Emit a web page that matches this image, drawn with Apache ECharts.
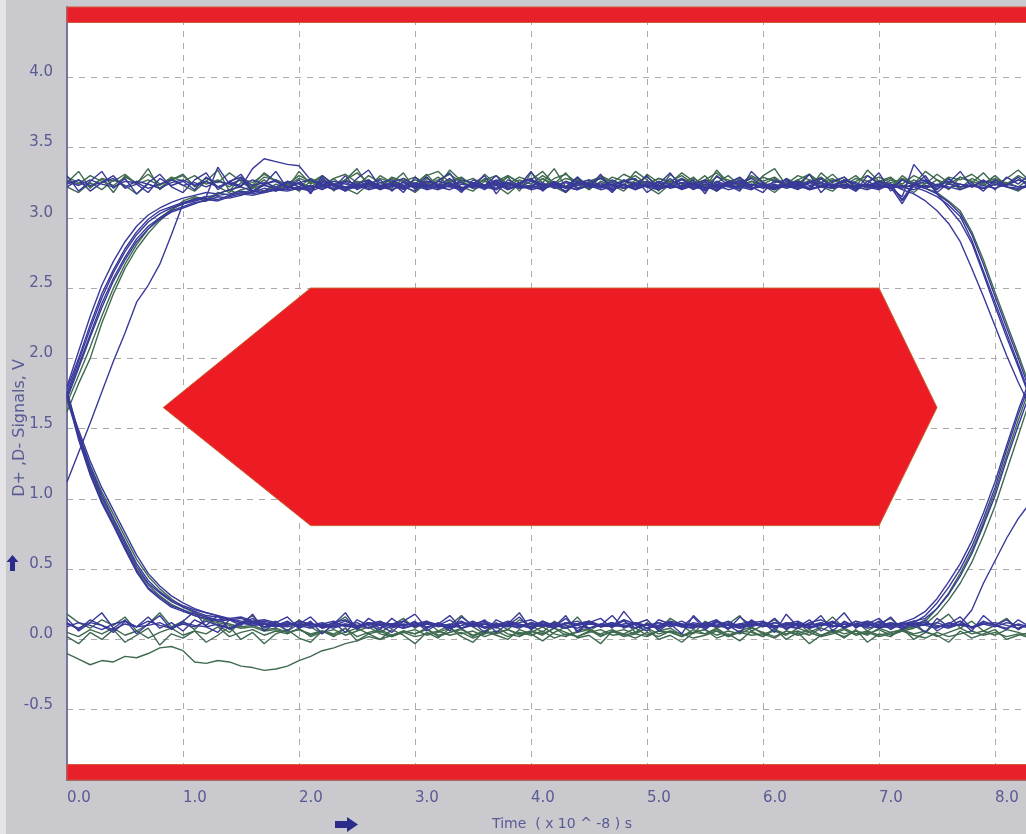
<!DOCTYPE html>
<html>
<head>
<meta charset="utf-8">
<script src="https://cdn.jsdelivr.net/npm/echarts@6/dist/echarts.min.js"></script>
<style>
html,body{margin:0;padding:0;background:#fff;}
#chart{width:1026px;height:834px;}
</style>
</head>
<body>
<div id="chart"></div>
<script>
// ---- axis / tick data ----
const xTicks = [0, 1, 2, 3, 4, 5, 6, 7, 8];
const yTicks = [-0.5, 0.0, 0.5, 1.0, 1.5, 2.0, 2.5, 3.0, 3.5, 4.0];

// sample times (x 10^-8 s)
const time = [
0.0,0.1,0.2,0.3,0.4,0.5,0.6,0.7,0.8,0.9,
1.0,1.1,1.2,1.3,1.4,1.5,1.6,1.7,1.8,1.9,
2.0,2.1,2.2,2.3,2.4,2.5,2.6,2.7,2.8,2.9,
3.0,3.1,3.2,3.3,3.4,3.5,3.6,3.7,3.8,3.9,
4.0,4.1,4.2,4.3,4.4,4.5,4.6,4.7,4.8,4.9,
5.0,5.1,5.2,5.3,5.4,5.5,5.6,5.7,5.8,5.9,
6.0,6.1,6.2,6.3,6.4,6.5,6.6,6.7,6.8,6.9,
7.0,7.1,7.2,7.3,7.4,7.5,7.6,7.7,7.8,7.9,
8.0,8.1,8.2,8.3];

// eye mask (red hexagon)
const maskT = [0.83, 2.10, 7.00, 7.50, 7.00, 2.10];
const maskV = [1.65, 2.50, 2.50, 1.65, 0.81, 0.81];
// red limit bands
const topBand = [4.39, 4.5];
const bottomBand = [-1.0, -0.89];

// ---- green traces ----
const g1 = [
3.27,3.24,3.30,3.26,3.23,3.29,3.25,3.31,3.24,3.27,
3.30,3.23,3.28,3.25,3.32,3.26,3.22,3.29,3.27,3.24,
3.30,3.26,3.23,3.28,3.31,3.25,3.27,3.22,3.29,3.26,
3.24,3.30,3.33,3.25,3.28,3.23,3.27,3.30,3.24,3.29,
3.26,3.22,3.28,3.31,3.25,3.27,3.23,3.29,3.26,3.30,
3.24,3.28,3.25,3.32,3.26,3.23,3.29,3.27,3.24,3.30,
3.26,3.29,3.23,3.27,3.31,3.25,3.28,3.22,3.26,3.30,
3.25,3.28,3.24,3.30,3.26,3.23,3.29,3.27,3.31,3.25,
3.28,3.24,3.30,3.26];
const g2 = [
-0.10,-0.14,-0.18,-0.15,-0.16,-0.12,-0.13,-0.10,-0.06,-0.05,
-0.08,-0.16,-0.17,-0.15,-0.16,-0.19,-0.20,-0.22,-0.21,-0.19,
-0.15,-0.12,-0.08,-0.06,-0.03,-0.01,0.02,0.00,0.03,0.05,
0.02,0.04,0.06,0.03,0.05,0.01,0.04,0.06,0.02,0.05,
0.03,0.06,0.01,0.04,0.02,0.05,0.07,0.03,0.04,0.01,
0.05,0.02,0.06,0.04,0.01,0.03,0.06,0.02,0.05,0.03,
0.04,0.01,0.06,0.03,0.05,0.02,0.04,0.07,0.03,0.05,
0.02,0.04,0.06,0.03,0.01,0.05,0.02,0.04,0.06,0.03,
0.05,0.02,0.04,0.01];
const g3 = [
1.62,1.82,2.00,2.25,2.46,2.64,2.78,2.89,2.98,3.05,
3.12,3.15,3.13,3.18,3.16,3.20,3.22,3.19,3.24,3.21,
3.25,3.22,3.27,3.24,3.21,3.26,3.23,3.28,3.25,3.22,
3.27,3.24,3.29,3.23,3.26,3.22,3.28,3.25,3.23,3.27,
3.24,3.30,3.25,3.22,3.27,3.24,3.28,3.23,3.26,3.25,
3.29,3.23,3.26,3.24,3.21,3.27,3.25,3.30,3.23,3.26,
3.24,3.28,3.22,3.26,3.25,3.29,3.23,3.27,3.24,3.21,
3.26,3.23,3.28,3.25,3.22,3.27,3.24,3.29,3.26,3.23,
3.27,3.25,3.22,3.28];
const g4 = [
1.75,1.44,1.20,0.99,0.83,0.66,0.50,0.39,0.31,0.25,
0.21,0.17,0.14,0.12,0.10,0.08,0.09,0.06,0.07,0.05,
0.07,0.04,0.06,0.03,0.05,0.08,0.04,0.06,0.02,0.05,
0.07,0.03,0.05,0.08,0.04,0.06,0.02,0.05,0.07,0.04,
0.06,0.03,0.08,0.05,0.02,0.06,0.04,0.07,0.03,0.05,
0.08,0.04,0.06,0.02,0.05,0.07,0.03,0.06,0.04,0.08,
0.05,0.02,0.06,0.04,0.07,0.03,0.05,0.08,0.04,0.06,
0.03,0.05,0.07,0.04,0.06,0.02,0.05,0.08,0.04,0.06,
0.03,0.07,0.05,0.02];
const g5 = [
3.29,3.25,3.22,3.28,3.26,3.31,3.24,3.27,3.23,3.29,
3.26,3.30,3.24,3.27,3.22,3.28,3.25,3.31,3.26,3.23,
3.28,3.25,3.30,3.24,3.27,3.32,3.25,3.22,3.28,3.26,
3.29,3.24,3.27,3.31,3.25,3.28,3.23,3.26,3.30,3.25,
3.27,3.33,3.24,3.28,3.26,3.22,3.29,3.25,3.31,3.27,
3.23,3.28,3.26,3.30,3.24,3.27,3.32,3.25,3.28,3.23,
3.29,3.26,3.24,3.30,3.27,3.25,3.31,3.23,3.28,3.26,
3.29,3.25,3.27,3.24,3.21,3.18,3.12,3.05,2.90,2.70,
2.47,2.25,2.03,1.80];
const g6 = [
0.05,0.02,0.07,0.04,0.08,0.03,0.06,0.01,0.05,0.08,
0.03,0.06,0.04,0.09,0.02,0.05,0.07,0.03,0.06,0.04,
0.08,0.02,0.05,0.07,0.03,0.06,0.09,0.04,0.02,0.06,
0.04,0.07,0.03,0.05,0.08,0.02,0.06,0.04,0.07,0.03,
0.05,0.09,0.04,0.02,0.06,0.08,0.03,0.05,0.07,0.04,
0.02,0.06,0.08,0.03,0.05,0.04,0.07,0.02,0.06,0.09,
0.04,0.06,0.03,0.08,0.05,0.02,0.07,0.04,0.06,0.03,
0.08,0.05,0.07,0.09,0.13,0.22,0.33,0.47,0.63,0.83,
1.05,1.31,1.56,1.79];
const g7 = [
0.18,0.12,0.08,0.14,0.10,0.16,0.06,0.11,0.19,0.09,
0.13,0.07,0.15,0.10,0.05,0.12,0.17,0.08,0.11,0.06,
0.14,0.09,0.04,0.11,0.16,0.07,0.12,0.05,0.10,0.15,
0.08,0.13,0.06,0.10,0.17,0.09,0.04,0.12,0.07,0.14,
0.10,0.05,0.13,0.08,0.16,0.06,0.11,0.09,0.14,0.05,
0.12,0.07,0.15,0.10,0.04,0.13,0.08,0.11,0.17,0.06,
0.10,0.14,0.07,0.12,0.05,0.09,0.16,0.08,0.13,0.06,
0.11,0.15,0.07,0.10,0.05,0.12,0.18,0.08,0.13,0.06,
0.10,0.15,0.07,0.12];
const g8 = [
3.22,3.18,3.25,3.20,3.27,3.23,3.17,3.24,3.21,3.28,
3.23,3.19,3.26,3.22,3.18,3.25,3.21,3.27,3.20,3.24,
3.19,3.26,3.22,3.28,3.21,3.17,3.24,3.20,3.26,3.23,
3.18,3.25,3.21,3.27,3.22,3.19,3.26,3.23,3.17,3.24,
3.21,3.28,3.22,3.18,3.25,3.20,3.26,3.23,3.19,3.27,
3.22,3.17,3.24,3.21,3.28,3.23,3.19,3.25,3.20,3.26,
3.23,3.18,3.25,3.21,3.27,3.22,3.19,3.26,3.20,3.24,
3.21,3.27,3.23,3.18,3.25,3.22,3.28,3.20,3.24,3.21,
3.26,3.22,3.19,3.25];
const g9 = [
3.25,3.33,3.21,3.28,3.18,3.30,3.24,3.35,3.20,3.27,
3.31,3.22,3.26,3.34,3.19,3.29,3.23,3.32,3.26,3.21,
3.33,3.24,3.29,3.19,3.27,3.35,3.22,3.30,3.25,3.32,
3.20,3.28,3.23,3.34,3.26,3.21,3.31,3.24,3.29,3.19,
3.32,3.25,3.35,3.22,3.28,3.20,3.30,3.26,3.23,3.33,
3.27,3.19,3.31,3.24,3.29,3.21,3.34,3.25,3.28,3.22,
3.30,3.35,3.23,3.27,3.20,3.32,3.25,3.29,3.22,3.34,
3.26,3.21,3.30,3.24,3.33,3.27,3.20,3.29,3.25,3.32,
3.23,3.28,3.34,3.26];
const g10 = [
0.02,-0.03,0.05,0.00,0.07,-0.02,0.03,0.08,-0.04,0.04,
0.01,0.06,-0.02,0.03,0.09,0.00,0.05,-0.03,0.04,0.07,
0.01,-0.02,0.06,0.02,0.08,-0.01,0.04,0.00,0.07,0.03,
-0.03,0.05,0.01,0.08,0.02,-0.02,0.06,0.03,0.00,0.07,
0.04,-0.01,0.05,0.09,0.01,0.03,-0.03,0.06,0.02,0.04,
0.08,0.00,0.03,-0.02,0.05,0.07,0.01,0.04,-0.01,0.06,
0.02,0.08,0.00,0.05,-0.03,0.03,0.06,0.01,0.07,-0.02,
0.04,0.02,0.08,0.00,0.05,0.03,-0.02,0.06,0.01,0.04,
0.07,0.00,0.03,0.05];
const g11 = [
1.68,1.88,2.08,2.30,2.50,2.67,2.81,2.92,3.00,3.06,
3.10,3.14,3.12,3.17,3.20,3.16,3.21,3.24,3.19,3.26,
3.22,3.28,3.24,3.20,3.27,3.23,3.30,3.25,3.21,3.28,
3.24,3.31,3.22,3.26,3.29,3.23,3.27,3.20,3.30,3.25,
3.22,3.28,3.24,3.32,3.21,3.26,3.29,3.23,3.27,3.20,
3.31,3.25,3.22,3.28,3.24,3.30,3.21,3.26,3.23,3.29,
3.25,3.21,3.28,3.24,3.31,3.22,3.27,3.25,3.30,3.23,
3.26,3.29,3.22,3.27,3.24,3.31,3.25,3.21,3.28,3.24,
3.30,3.23,3.27,3.25];
const g12 = [
1.70,1.46,1.24,1.05,0.89,0.73,0.57,0.45,0.36,0.29,
0.23,0.19,0.16,0.13,0.11,0.09,0.10,0.07,0.08,0.05,
0.07,0.03,0.06,0.04,0.08,0.02,0.05,0.07,0.03,0.06,
0.04,0.08,0.02,0.05,0.07,0.03,0.06,0.09,0.04,0.02,
0.06,0.04,0.08,0.03,0.05,0.07,0.02,0.06,0.04,0.08,
0.03,0.06,0.05,0.02,0.07,0.04,0.08,0.03,0.06,0.05,
0.02,0.07,0.04,0.06,0.03,0.08,0.05,0.02,0.06,0.04,
0.07,0.03,0.06,0.08,0.11,0.18,0.28,0.40,0.55,0.74,
0.95,1.20,1.45,1.70];

// ---- blue traces ----
const b1 = [
1.75,1.98,2.21,2.43,2.61,2.76,2.88,2.97,3.03,3.07,
3.10,3.12,3.14,3.13,3.16,3.18,3.17,3.19,3.21,3.20,
3.22,3.21,3.23,3.20,3.22,3.24,3.21,3.23,3.22,3.25,
3.21,3.23,3.22,3.20,3.24,3.22,3.23,3.21,3.25,3.22,
3.23,3.21,3.24,3.22,3.20,3.23,3.22,3.24,3.21,3.23,
3.22,3.25,3.21,3.23,3.22,3.20,3.24,3.22,3.23,3.21,
3.24,3.22,3.23,3.21,3.22,3.25,3.22,3.23,3.21,3.24,
3.22,3.23,3.21,3.24,3.22,3.23,3.21,3.24,3.22,3.23,
3.21,3.24,3.22,3.23];
const b2 = [
1.73,1.95,2.17,2.39,2.57,2.72,2.85,2.94,3.00,3.05,
3.08,3.11,3.12,3.15,3.14,3.16,3.19,3.18,3.20,3.22,
3.21,3.23,3.20,3.24,3.22,3.21,3.25,3.22,3.20,3.23,
3.22,3.24,3.21,3.23,3.25,3.21,3.22,3.24,3.20,3.23,
3.21,3.24,3.22,3.25,3.21,3.23,3.20,3.22,3.24,3.21,
3.23,3.22,3.24,3.20,3.23,3.21,3.25,3.22,3.21,3.24,
3.22,3.20,3.23,3.25,3.21,3.22,3.24,3.21,3.23,3.22,
3.24,3.21,3.23,3.22,3.19,3.15,3.09,3.01,2.84,2.62,
2.40,2.18,1.96,1.74];
const b3 = [
1.76,1.46,1.21,1.01,0.85,0.68,0.52,0.40,0.33,0.27,
0.23,0.20,0.17,0.16,0.14,0.12,0.13,0.11,0.10,0.12,
0.09,0.11,0.10,0.08,0.11,0.09,0.12,0.10,0.08,0.11,
0.10,0.12,0.09,0.11,0.08,0.10,0.12,0.09,0.11,0.10,
0.08,0.11,0.09,0.12,0.10,0.08,0.11,0.10,0.09,0.12,
0.10,0.08,0.11,0.09,0.12,0.10,0.09,0.11,0.08,0.10,
0.12,0.09,0.11,0.10,0.08,0.11,0.09,0.12,0.10,0.11,
0.08,0.10,0.12,0.09,0.11,0.10,0.08,0.11,0.09,0.12,
0.10,0.08,0.11,0.09];
const b4 = [
1.74,1.44,1.18,0.98,0.82,0.65,0.49,0.37,0.30,0.24,
0.21,0.18,0.16,0.14,0.15,0.13,0.11,0.12,0.10,0.09,
0.11,0.10,0.12,0.09,0.10,0.12,0.08,0.11,0.10,0.13,
0.09,0.11,0.10,0.08,0.12,0.10,0.11,0.09,0.12,0.10,
0.11,0.09,0.12,0.10,0.08,0.11,0.10,0.12,0.09,0.11,
0.10,0.12,0.09,0.11,0.10,0.08,0.12,0.10,0.11,0.09,
0.12,0.10,0.08,0.11,0.10,0.12,0.09,0.11,0.10,0.12,
0.09,0.11,0.10,0.12,0.17,0.26,0.37,0.50,0.66,0.86,
1.08,1.35,1.60,1.82];
const b5 = [
3.26,3.23,3.27,3.24,3.22,3.26,3.25,3.21,3.24,3.27,
3.23,3.25,3.22,3.26,3.24,3.27,3.23,3.25,3.22,3.26,
3.24,3.21,3.25,3.23,3.26,3.24,3.22,3.25,3.27,3.23,
3.25,3.22,3.26,3.24,3.21,3.25,3.23,3.27,3.24,3.22,
3.26,3.23,3.25,3.22,3.24,3.27,3.23,3.25,3.21,3.24,
3.26,3.23,3.22,3.25,3.24,3.27,3.22,3.24,3.26,3.23,
3.25,3.21,3.24,3.26,3.23,3.25,3.22,3.27,3.24,3.23,
3.25,3.22,3.10,3.24,3.21,3.17,3.11,3.03,2.88,2.67,
2.44,2.22,2.00,1.77];
const b6 = [
0.11,0.08,0.12,0.10,0.07,0.11,0.09,0.13,0.10,0.08,
0.12,0.10,0.09,0.11,0.08,0.12,0.10,0.11,0.09,0.12,
0.10,0.08,0.11,0.13,0.09,0.10,0.12,0.08,0.11,0.10,
0.12,0.09,0.11,0.08,0.10,0.13,0.09,0.11,0.10,0.08,
0.12,0.10,0.09,0.11,0.13,0.08,0.10,0.12,0.09,0.11,
0.10,0.08,0.12,0.10,0.11,0.09,0.13,0.10,0.08,0.11,
0.09,0.12,0.10,0.11,0.08,0.12,0.10,0.09,0.11,0.13,
0.10,0.08,0.12,0.15,0.20,0.29,0.41,0.54,0.70,0.90,
1.12,1.38,1.63,1.85];
const b7 = [
3.24,3.27,3.23,3.25,3.28,3.22,3.26,3.24,3.21,3.25,
3.27,3.23,3.26,3.22,3.25,3.23,3.27,3.24,3.26,3.22,
3.25,3.27,3.23,3.26,3.24,3.22,3.26,3.23,3.25,3.28,
3.23,3.26,3.24,3.22,3.27,3.25,3.23,3.26,3.22,3.25,
3.27,3.24,3.22,3.26,3.23,3.25,3.28,3.23,3.26,3.24,
3.22,3.26,3.24,3.27,3.23,3.25,3.22,3.26,3.24,3.28,
3.23,3.25,3.27,3.22,3.26,3.24,3.23,3.27,3.25,3.22,
3.26,3.24,3.13,3.25,3.27,3.23,3.26,3.24,3.22,3.26,
3.25,3.23,3.27,3.24];
const b8 = [
0.09,0.12,0.10,0.07,0.11,0.13,0.09,0.10,0.12,0.08,
0.11,0.09,0.13,0.10,0.08,0.11,0.12,0.09,0.10,0.13,
0.08,0.11,0.09,0.12,0.10,0.08,0.11,0.13,0.09,0.10,
0.12,0.08,0.11,0.10,0.13,0.09,0.11,0.08,0.12,0.10,
0.09,0.13,0.10,0.08,0.11,0.12,0.09,0.10,0.13,0.08,
0.11,0.10,0.12,0.09,0.08,0.11,0.10,0.13,0.09,0.12,
0.10,0.08,0.11,0.13,0.09,0.10,0.12,0.08,0.11,0.09,
0.13,0.10,0.08,0.11,0.12,0.09,0.10,0.13,0.08,0.11,
0.09,0.12,0.10,0.08];
const b9 = [
1.12,1.33,1.54,1.76,1.98,2.18,2.40,2.52,2.67,2.88,
3.10,3.13,3.15,3.36,3.24,3.22,3.35,3.42,3.40,3.38,
3.37,3.27,3.24,3.21,3.25,3.22,3.24,3.20,3.23,3.21,
3.24,3.22,3.20,3.23,3.21,3.24,3.22,3.25,3.21,3.23,
3.20,3.22,3.24,3.21,3.23,3.25,3.22,3.20,3.23,3.22,
3.24,3.21,3.23,3.22,3.25,3.21,3.23,3.20,3.22,3.24,
3.21,3.23,3.22,3.24,3.20,3.23,3.21,3.24,3.22,3.23,
3.21,3.24,3.22,3.20,3.23,3.21,3.24,3.22,3.23,3.21,
3.24,3.22,3.20,3.23];
const b10 = [
1.77,1.47,1.23,1.03,0.86,0.70,0.54,0.42,0.34,0.28,
0.24,0.21,0.19,0.17,0.14,0.15,0.12,0.13,0.11,0.10,
0.12,0.09,0.11,0.10,0.13,0.09,0.11,0.12,0.10,0.08,
0.11,0.13,0.10,0.09,0.12,0.11,0.08,0.10,0.13,0.11,
0.09,0.10,0.12,0.08,0.11,0.13,0.10,0.09,0.11,0.12,
0.08,0.10,0.13,0.11,0.09,0.12,0.10,0.08,0.11,0.13,
0.10,0.09,0.12,0.11,0.08,0.10,0.13,0.09,0.11,0.10,
0.12,0.09,0.11,0.13,0.10,0.12,0.09,0.11,0.21,0.40,
0.56,0.72,0.86,0.97];
const b11 = [
1.78,2.00,2.24,2.46,2.63,2.78,2.90,2.99,3.05,3.08,
3.11,3.13,3.15,3.16,3.17,3.19,3.18,3.21,3.19,3.22,
3.20,3.23,3.21,3.24,3.20,3.22,3.25,3.21,3.23,3.20,
3.24,3.21,3.23,3.22,3.20,3.24,3.21,3.23,3.25,3.21,
3.22,3.20,3.24,3.21,3.25,3.22,3.23,3.21,3.24,3.20,
3.23,3.21,3.22,3.25,3.20,3.24,3.21,3.23,3.22,3.20,
3.24,3.21,3.23,3.20,3.25,3.22,3.21,3.24,3.22,3.20,
3.23,3.21,3.15,3.38,3.28,3.17,3.07,2.97,2.82,2.60,
2.37,2.15,1.94,1.72];
const b12 = [
1.71,1.93,2.15,2.36,2.55,2.70,2.83,2.92,2.99,3.04,
3.07,3.10,3.13,3.12,3.15,3.17,3.16,3.18,3.20,3.19,
3.21,3.19,3.22,3.24,3.21,3.23,3.20,3.22,3.24,3.21,
3.23,3.20,3.22,3.25,3.21,3.23,3.22,3.20,3.24,3.21,
3.23,3.25,3.21,3.22,3.20,3.24,3.22,3.23,3.21,3.25,
3.22,3.20,3.23,3.21,3.24,3.22,3.20,3.23,3.25,3.21,
3.22,3.24,3.21,3.23,3.20,3.22,3.24,3.21,3.23,3.22,
3.20,3.24,3.12,3.23,3.21,3.24,3.22,3.20,3.23,3.21,
3.24,3.22,3.21,3.23];
const b13 = [
1.73,1.42,1.17,0.97,0.81,0.64,0.48,0.36,0.29,0.23,
0.20,0.17,0.15,0.13,0.14,0.12,0.10,0.11,0.09,0.11,
0.10,0.12,0.08,0.10,0.11,0.09,0.12,0.10,0.11,0.08,
0.10,0.12,0.11,0.09,0.10,0.12,0.08,0.11,0.10,0.09,
0.12,0.10,0.11,0.08,0.10,0.12,0.09,0.11,0.10,0.08,
0.11,0.09,0.12,0.10,0.08,0.11,0.10,0.12,0.09,0.11,
0.10,0.12,0.09,0.08,0.11,0.10,0.12,0.09,0.11,0.08,
0.10,0.12,0.09,0.11,0.10,0.08,0.12,0.10,0.09,0.11,
0.12,0.10,0.08,0.11];
const b14 = [
3.30,3.19,3.26,3.33,3.21,3.28,3.17,3.25,3.31,3.22,
3.18,3.27,3.32,3.20,3.26,3.29,3.18,3.24,3.33,3.21,
3.27,3.17,3.30,3.23,3.19,3.28,3.34,3.22,3.25,3.18,
3.29,3.21,3.26,3.32,3.19,3.24,3.30,3.17,3.27,3.23,
3.33,3.20,3.25,3.18,3.29,3.22,3.31,3.19,3.26,3.28,
3.18,3.24,3.32,3.21,3.27,3.17,3.30,3.23,3.19,3.33,
3.25,3.20,3.28,3.22,3.31,3.18,3.26,3.29,3.21,3.24,
3.32,3.19,3.27,3.23,3.30,3.18,3.25,3.33,3.22,3.27,
3.20,3.29,3.24,3.31];
const b15 = [
0.15,0.06,0.12,0.19,0.08,0.14,0.04,0.11,0.17,0.07,
0.13,0.20,0.09,0.05,0.14,0.10,0.18,0.06,0.12,0.16,
0.08,0.13,0.04,0.11,0.19,0.07,0.15,0.10,0.05,0.13,
0.18,0.08,0.12,0.06,0.16,0.10,0.14,0.05,0.11,0.19,
0.07,0.13,0.09,0.17,0.05,0.12,0.15,0.08,0.20,0.10,
0.06,0.14,0.11,0.04,0.17,0.09,0.13,0.07,0.16,0.10,
0.12,0.05,0.18,0.09,0.14,0.06,0.11,0.19,0.08,0.13,
0.10,0.16,0.07,0.12,0.05,0.15,0.09,0.13,0.06,0.17,
0.10,0.14,0.07,0.12];
const b16 = [
1.80,2.05,2.30,2.52,2.69,2.83,2.94,3.02,3.07,3.11,
3.14,3.16,3.18,3.17,3.20,3.22,3.19,3.23,3.21,3.25,
3.22,3.20,3.26,3.23,3.19,3.24,3.27,3.21,3.25,3.22,
3.19,3.26,3.23,3.28,3.21,3.24,3.20,3.26,3.22,3.25,
3.28,3.21,3.23,3.19,3.26,3.24,3.21,3.27,3.23,3.20,
3.25,3.22,3.28,3.21,3.24,3.19,3.26,3.23,3.27,3.21,
3.24,3.20,3.26,3.22,3.25,3.28,3.21,3.23,3.19,3.26,
3.22,3.24,3.20,3.17,3.12,3.05,2.96,2.83,2.64,2.44,
2.23,2.02,1.83,1.66];
const b17 = [
1.72,1.49,1.27,1.08,0.92,0.76,0.60,0.47,0.38,0.31,
0.26,0.22,0.19,0.17,0.15,0.16,0.13,0.14,0.12,0.10,
0.13,0.11,0.09,0.12,0.14,0.10,0.08,0.12,0.11,0.13,
0.09,0.12,0.10,0.14,0.08,0.11,0.13,0.10,0.09,0.12,
0.14,0.10,0.08,0.12,0.11,0.13,0.09,0.10,0.14,0.11,
0.08,0.12,0.10,0.13,0.09,0.11,0.14,0.08,0.10,0.12,
0.13,0.09,0.11,0.08,0.12,0.14,0.10,0.09,0.13,0.11,
0.08,0.12,0.10,0.13,0.15,0.22,0.32,0.45,0.61,0.81,
1.02,1.28,1.52,1.75];
const b18 = [
3.22,3.27,3.19,3.25,3.30,3.21,3.24,3.18,3.28,3.23,
3.26,3.20,3.29,3.22,3.25,3.31,3.19,3.24,3.27,3.21,
3.25,3.18,3.28,3.22,3.30,3.20,3.24,3.27,3.19,3.26,
3.22,3.29,3.21,3.25,3.18,3.27,3.23,3.30,3.20,3.24,
3.28,3.19,3.26,3.22,3.29,3.21,3.25,3.18,3.27,3.23,
3.30,3.20,3.24,3.28,3.21,3.26,3.19,3.25,3.29,3.22,
3.18,3.27,3.23,3.25,3.20,3.28,3.22,3.26,3.19,3.30,
3.24,3.21,3.27,3.23,3.26,3.20,3.28,3.22,3.25,3.19,
3.27,3.23,3.29,3.21];
const b19 = [
0.12,0.07,0.14,0.10,0.05,0.13,0.09,0.16,0.08,0.12,
0.06,0.14,0.10,0.17,0.07,0.11,0.15,0.09,0.13,0.06,
0.11,0.16,0.08,0.12,0.05,0.14,0.10,0.07,0.15,0.09,
0.13,0.06,0.11,0.17,0.08,0.12,0.05,0.14,0.10,0.16,
0.07,0.12,0.09,0.15,0.06,0.13,0.10,0.17,0.08,0.11,
0.14,0.06,0.12,0.09,0.16,0.07,0.13,0.10,0.05,0.14,
0.09,0.15,0.07,0.12,0.10,0.17,0.06,0.13,0.09,0.11,
0.15,0.07,0.12,0.10,0.14,0.06,0.11,0.16,0.08,0.13,
0.10,0.07,0.14,0.09];

const greenTraces = [g1, g2, g3, g4, g5, g6, g7, g8, g9, g10, g11, g12];
const blueTraces = [b1, b2, b3, b4, b5, b6, b7, b8, b9, b10, b11, b12, b13, b14, b15, b16, b17, b18, b19];

const GREEN = '#3f6a50';
const BLUE = '#39399a';
const LABEL = '#5a5a95';

function traceSeries(vals, color) {
  return {
    type: 'line', symbol: 'none', silent: true, animation: false,
    lineStyle: { color: color, width: 1.4 },
    data: time.map((t, i) => [t, vals[i]]),
    z: 3
  };
}

const series = [];
// red limit bands + mask
series.push({
  type: 'custom', silent: true, animation: false, z: 2,
  data: [[0, 0]],
  renderItem: function (params, api) {
    const x0 = api.coord([0, 0])[0];
    const x1 = api.coord([8.3, 0])[0];
    const tT = api.coord([0, topBand[1]])[1], tB = api.coord([0, topBand[0]])[1];
    const bT = api.coord([0, bottomBand[1]])[1], bB = api.coord([0, bottomBand[0]])[1];
    const pts = maskT.map((t, i) => api.coord([t, maskV[i]]));
    return {
      type: 'group',
      children: [
        { type: 'rect', shape: { x: x0, y: tT, width: x1 - x0, height: tB - tT },
          style: { fill: '#e8202a', stroke: '#d0583a', lineWidth: 1 } },
        { type: 'rect', shape: { x: x0, y: bT, width: x1 - x0, height: bB - bT },
          style: { fill: '#e8202a', stroke: '#d0583a', lineWidth: 1 } },
        { type: 'polygon', shape: { points: pts },
          style: { fill: '#ed1c24', stroke: '#c8602e', lineWidth: 1 } }
      ]
    };
  }
});
greenTraces.forEach(v => series.push(traceSeries(v, GREEN)));
blueTraces.forEach(v => series.push(traceSeries(v, BLUE)));

const chart = echarts.init(document.getElementById('chart'), null, { renderer: 'canvas' });
chart.setOption({
  backgroundColor: '#c9c9ce',
  animation: false,
  grid: { left: 67, right: 0, top: 7, bottom: 54, show: true, backgroundColor: '#ffffff', borderWidth: 0 },
  xAxis: {
    type: 'value', min: 0, max: 8.267, interval: 1,
    axisLine: { show: true, onZero: false, lineStyle: { color: '#76769c', width: 2 } },
    axisTick: { show: false },
    axisLabel: {
      color: LABEL, fontFamily: 'DejaVu Sans', fontSize: 15, align: 'left', margin: 11,
      showMaxLabel: false,
      formatter: v => xTicks.indexOf(Math.round(v * 1000) / 1000) >= 0 ? v.toFixed(1) : ''
    },
    splitLine: { show: true, lineStyle: { color: '#ababab', type: [6, 6], width: 1 } }
  },
  yAxis: {
    type: 'value', min: -1.0, max: 4.5, interval: 0.5,
    axisLine: { show: true, onZero: false, lineStyle: { color: '#76769c', width: 2 } },
    axisTick: { show: false },
    axisLabel: {
      color: LABEL, fontFamily: 'DejaVu Sans', fontSize: 15, margin: 14,
      verticalAlign: 'bottom', lineHeight: 10,
      formatter: v => yTicks.some(y => Math.abs(y - v) < 1e-6) ? v.toFixed(1) : ''
    },
    splitLine: { show: true, lineStyle: { color: '#ababab', type: [6, 6], width: 1 } }
  },
  graphic: [
    { type: 'rect', left: 0, top: 0, shape: { width: 6, height: 834 }, style: { fill: '#e4e4e6' }, z: -1 },
    { type: 'text', x: 20, y: 428, rotation: Math.PI / 2,
      style: { text: 'D+ ,D- Signals, V', fill: LABEL, font: '16px "DejaVu Sans"', textAlign: 'center', textVerticalAlign: 'middle' } },
    { type: 'text', x: 562, y: 824,
      style: { text: 'Time  ( x 10 ^ -8 ) s', fill: LABEL, font: '14px "DejaVu Sans"', textAlign: 'center', textVerticalAlign: 'middle' } },
    { type: 'polygon', shape: { points: [[335, 821], [347, 821], [347, 817], [358, 824.5], [347, 832], [347, 828], [335, 828]] },
      style: { fill: '#2b2b8c' } },
    { type: 'polygon', shape: { points: [[12.5, 555], [18.5, 562], [15, 562], [15, 571], [10, 571], [10, 562], [6.5, 562]] },
      style: { fill: '#2b2b8c' } }
  ],
  series: series
});
</script>
</body>
</html>
